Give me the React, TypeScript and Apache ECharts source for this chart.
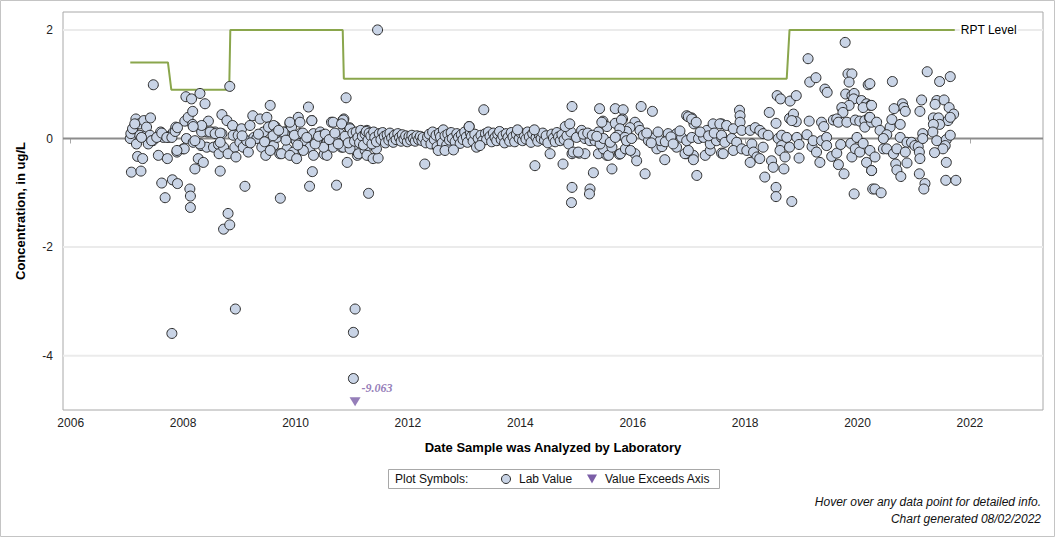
import React, { useEffect, useRef } from 'react';
import * as echarts from 'echarts';

// ---- axis ticks ----
const xTickYears = [2006, 2008, 2010, 2012, 2014, 2016, 2018, 2020, 2022];
const yTickValues = [-4, -2, 0, 2];
const gridValues = [2, -2, -4];
const X_MIN = 2005.863;
const X_MAX = 2023.3;
const Y_MIN = -5;
const Y_MAX = 2.33;

// ---- RPT level (step line) [decimal year, ug/L] ----
const rptLevel: [number, number][] = [
  [2007.06, 1.4], [2007.73, 1.4], [2007.79, 0.9], [2008.82, 0.9], [2008.84, 2.0],
  [2010.84, 2.0], [2010.86, 1.1], [2018.74, 1.1], [2018.79, 2.0], [2021.73, 2.0],
];

// ---- lab values [decimal year, ug/L] ----
const labValues2007to2011: [number, number][] = [
  [2007.06, 0.0], [2007.07, 0.09], [2007.08, -0.62], [2007.11, 0.18], [2007.16, 0.36], [2007.17, -0.1],
  [2007.19, -0.33], [2007.22, 0.27], [2007.23, 0.06], [2007.25, -0.6], [2007.28, -0.37], [2007.3, 0.33],
  [2007.34, 0.06], [2007.35, 0.21], [2007.38, -0.1], [2007.42, 0.38], [2007.41, 0.06], [2007.46, -0.04],
  [2007.47, 0.99], [2007.56, -0.31], [2007.6, 0.12], [2007.62, -0.82], [2007.65, 0.02], [2007.68, -1.09],
  [2007.72, -0.37], [2007.74, 0.02], [2007.78, 0.06], [2007.83, 0.12], [2007.81, -0.76], [2007.87, 0.21],
  [2007.89, -0.25], [2007.9, -0.83], [2008.0, -0.19], [2008.03, 0.32], [2008.05, 0.77], [2008.06, 0.0],
  [2008.09, 0.39], [2008.12, -0.93], [2008.13, -1.06], [2008.13, -1.27], [2008.15, 0.73], [2008.17, 0.5],
  [2008.17, 0.26], [2008.18, -0.07], [2008.21, -0.56], [2008.27, -0.37], [2008.3, 0.83], [2008.3, 0.21],
  [2008.32, -0.13], [2008.36, -0.44], [2008.39, 0.64], [2008.42, -0.16], [2008.43, 0.12], [2008.45, 0.32],
  [2008.51, 0.12], [2008.54, -0.16], [2008.57, 0.12], [2008.63, -0.11], [2008.64, -0.28], [2008.66, -0.6],
  [2008.69, 0.44], [2008.69, 0.09], [2008.72, -0.16], [2008.72, -1.67], [2008.78, 0.33], [2008.8, -0.28],
  [2008.8, -1.38], [2008.83, 0.96], [2008.83, -1.59], [2008.88, 0.24], [2008.89, 0.06], [2008.92, -0.16],
  [2008.94, -0.34], [2008.93, -3.14], [2008.98, 0.06], [2009.01, -0.07], [2009.04, 0.18], [2009.07, -0.16],
  [2009.1, -0.88], [2009.13, -0.04], [2009.16, -0.25], [2009.19, 0.24], [2009.24, 0.42], [2009.26, 0.02],
  [2009.31, 0.0], [2009.37, 0.36], [2009.4, -0.16], [2009.43, 0.12], [2009.47, -0.31], [2009.49, 0.39],
  [2009.52, 0.21], [2009.55, 0.61], [2009.58, -0.04], [2009.61, -0.13], [2009.64, 0.22], [2009.67, 0.02],
  [2009.73, -1.1], [2009.72, -0.28], [2009.78, 0.09], [2009.81, 0.12], [2009.85, -0.19], [2009.9, 0.27],
  [2009.93, 0.21], [2009.96, -0.25], [2010.01, -0.04], [2010.05, 0.39], [2010.08, 0.09], [2010.11, -0.16],
  [2010.17, -0.04], [2010.23, 0.58], [2010.25, -0.88], [2010.26, -0.16], [2010.29, 0.33], [2010.3, -0.61],
  [2010.32, 0.09], [2010.38, -0.04], [2010.44, 0.12], [2010.47, 0.06], [2010.51, -0.29], [2010.56, -0.07],
  [2010.64, 0.3], [2010.67, -0.16], [2010.73, -0.86], [2010.73, -0.04], [2010.79, 0.09], [2010.82, -0.16],
  [2010.84, 0.33], [2010.86, 0.36], [2010.9, 0.75], [2010.92, -0.44], [2010.96, 0.2], [2011.0, 0.06],
  [2011.03, -0.04], [2011.06, -0.16], [2011.1, -0.31], [2007.8, -3.59], [2011.03, -3.57], [2011.06, -3.14],
  [2011.03, -4.42],
  [2007.1, 0.18], [2007.14, 0.27], [2007.26, 0.02], [2007.44, -0.04], [2007.53, 0.02], [2007.62, 0.1],
  [2007.71, 0.02], [2007.8, 0.02], [2007.86, 0.13], [2007.9, 0.2], [2008.33, 0.12], [2008.48, 0.12],
  [2008.57, 0.09], [2008.66, 0.1], [2008.66, -0.07], [2008.3, -0.1], [2008.21, -0.04], [2008.33, 0.24],
  [2008.18, 0.22], [2008.02, -0.19], [2007.89, -0.22],
  [2009.9, 0.3], [2010.08, 0.3], [2010.29, 0.33], [2010.67, 0.3], [2010.85, 0.34], [2010.82, 0.27],
  [2010.97, 0.18], [2009.61, 0.24], [2009.78, 0.12], [2009.64, 0.09], [2009.55, -0.22], [2009.75, -0.28],
  [2009.9, -0.31], [2010.02, -0.37], [2010.14, -0.22], [2010.32, -0.31], [2010.56, -0.31], [2010.5, -0.16],
  [2010.85, -0.16], [2010.97, -0.19],
  [2009.05, 0.05], [2009.2, -0.08], [2009.34, 0.08], [2009.45, -0.06], [2009.6, 0.05], [2009.7, 0.15],
  [2009.83, -0.03], [2009.98, 0.06], [2010.04, -0.12], [2010.13, 0.1], [2010.2, 0.02], [2010.35, -0.1],
  [2010.41, 0.04], [2010.53, 0.08], [2010.6, -0.02], [2010.7, 0.1], [2010.76, -0.1], [2010.88, 0.04],
  [2010.94, -0.08],
];

const labValues2011to2014: [number, number][] = [
  [2011.12, -0.28], [2011.24, -0.22], [2011.27, -0.31], [2011.38, -0.37], [2011.47, -0.36], [2011.44, -0.19],
  [2011.3, -1.01], [2011.46, 2.0], [2011.27, 0.15], [2011.09, 0.09], [2011.18, 0.06],
  [2011.02, 0.1], [2011.05, -0.05], [2011.08, 0.12], [2011.11, 0.02], [2011.14, -0.08], [2011.16, 0.15],
  [2011.19, 0.04], [2011.21, -0.12], [2011.24, 0.08], [2011.26, 0.13], [2011.29, -0.03], [2011.31, 0.1],
  [2011.34, 0.05], [2011.36, -0.1], [2011.39, 0.12], [2011.41, 0.02], [2011.44, -0.06], [2011.49, 0.09],
  [2011.52, -0.02], [2011.55, 0.11], [2011.58, 0.04], [2011.6, -0.08], [2011.63, 0.07], [2011.66, -0.03],
  [2011.68, 0.1], [2011.71, 0.01], [2011.74, -0.07], [2011.76, 0.06], [2011.79, -0.02], [2011.82, 0.09],
  [2011.85, 0.02], [2011.88, -0.05], [2011.9, 0.07], [2011.93, -0.01], [2011.96, 0.05], [2011.99, -0.06],
  [2012.02, 0.04], [2012.05, -0.03], [2012.07, 0.06], [2012.1, 0.0], [2012.13, -0.05], [2012.16, 0.05],
  [2012.19, -0.02], [2012.22, 0.04], [2012.25, -0.04], [2012.27, 0.02], [2012.32, -0.08], [2012.35, 0.03],
  [2012.38, 0.08], [2012.41, -0.1], [2012.44, 0.12], [2012.47, -0.02], [2012.5, 0.06], [2012.52, -0.15],
  [2012.56, 0.1], [2012.58, 0.03], [2012.61, -0.08], [2012.63, 0.16], [2012.66, 0.05], [2012.69, -0.12],
  [2012.71, 0.08], [2012.74, -0.03], [2012.77, 0.11], [2012.79, 0.0], [2012.84, -0.06], [2012.87, 0.09],
  [2012.9, 0.02], [2012.93, -0.09], [2012.95, 0.07], [2012.98, -0.02], [2013.01, 0.12], [2013.04, 0.03],
  [2013.06, -0.07], [2013.09, 0.22], [2013.11, 0.1], [2013.13, 0.04], [2013.16, -0.05], [2013.19, 0.08],
  [2013.25, 0.0], [2013.3, 0.06], [2013.33, -0.04], [2013.38, 0.09], [2013.4, -0.02], [2013.43, 0.12],
  [2013.46, 0.04], [2013.49, -0.06], [2013.52, 0.1], [2013.55, 0.02], [2013.58, -0.04], [2013.6, 0.08],
  [2013.63, 0.13], [2013.66, -0.02], [2013.69, 0.05], [2013.72, -0.08], [2013.75, 0.09], [2013.78, 0.02],
  [2013.81, -0.05], [2013.84, 0.11], [2013.87, 0.03], [2013.9, -0.06], [2013.93, 0.08], [2013.98, 0.0],
  [2014.01, 0.1], [2014.04, -0.04], [2014.07, 0.06], [2014.1, -0.01], [2014.13, 0.12], [2014.16, 0.03],
  [2014.19, -0.07], [2014.22, 0.09], [2014.28, 0.02], [2014.31, -0.05], [2014.34, 0.07], [2014.37, 0.0],
  [2014.4, 0.1], [2014.43, -0.03], [2014.46, 0.05], [2014.49, -0.08], [2014.56, 0.08], [2014.59, 0.01],
  [2014.62, -0.06], [2014.65, 0.11], [2014.68, 0.03], [2014.71, -0.04], [2014.74, 0.07], [2014.78, -0.02],
  [2014.83, 0.05], [2014.86, -0.1], [2014.9, 0.12],
  [2012.3, -0.47], [2012.54, -0.22], [2012.66, -0.22], [2012.81, -0.21], [2013.35, 0.53], [2013.09, 0.22],
  [2013.22, -0.16], [2013.28, -0.13], [2013.95, 0.16], [2014.25, 0.16], [2014.26, -0.5], [2014.53, -0.28],
  [2014.76, -0.47], [2014.8, 0.22], [2014.88, 0.27], [2014.92, 0.59], [2014.92, -0.28], [2014.92, -0.9],
  [2014.91, -1.18],
];

const labValues2015to2017: [number, number][] = [
  [2015.41, 0.55], [2015.69, 0.55], [2015.83, 0.53], [2016.15, 0.59], [2016.35, 0.5], [2015.47, 0.32],
  [2015.54, 0.22], [2015.69, 0.28], [2015.82, 0.36], [2016.04, 0.3], [2016.1, 0.22], [2016.96, 0.42],
  [2017.05, 0.38], [2017.09, 0.27], [2015.24, -0.93], [2015.23, -1.02], [2015.3, -0.63], [2015.63, -0.56],
  [2016.22, -0.65], [2016.57, -0.39], [2017.14, -0.68], [2014.94, -0.25], [2015.05, -0.27], [2015.15, -0.28],
  [2015.39, -0.28], [2015.54, -0.31], [2015.76, -0.29], [2015.88, -0.19], [2016.04, -0.28], [2016.07, -0.41],
  [2016.78, -0.16], [2016.96, -0.28], [2017.08, -0.31],
  [2016.99, 0.4], [2017.05, 0.36], [2017.13, 0.3], [2015.45, 0.3], [2015.8, 0.34], [2016.13, 0.15],
  [2015.95, 0.2], [2015.89, 0.13], [2015.39, 0.12], [2015.77, 0.18], [2015.74, 0.06], [2015.86, 0.02],
  [2015.03, -0.25], [2015.48, -0.19], [2015.57, -0.31], [2015.63, -0.16], [2015.78, -0.28], [2015.87, -0.19],
  [2015.96, -0.22], [2016.43, -0.19], [2016.52, -0.15], [2016.93, -0.28], [2016.99, -0.22], [2017.08, -0.39],
  [2017.29, -0.31], [2017.38, -0.22], [2017.58, -0.27], [2015.0, 0.02], [2015.09, 0.15], [2015.15, 0.0],
  [2015.24, -0.04], [2015.33, -0.04], [2015.42, -0.1], [2015.48, 0.0], [2015.6, -0.07], [2015.69, 0.02],
  [2015.89, -0.04], [2015.98, 0.0], [2016.19, 0.06], [2016.28, -0.04], [2016.4, 0.02], [2016.49, -0.04],
  [2016.63, 0.09], [2016.78, 0.09], [2016.87, 0.02], [2016.96, -0.04], [2017.05, 0.02], [2017.17, 0.0],
  [2017.26, 0.02], [2017.32, 0.15], [2017.38, -0.1], [2017.49, -0.04], [2017.58, 0.02], [2017.43, 0.27],
  [2017.58, 0.27],
  [2016.25, 0.1], [2016.33, -0.08], [2016.45, 0.12], [2016.58, -0.06], [2016.68, 0.03], [2016.72, -0.1],
  [2016.84, 0.14], [2017.2, 0.12], [2017.35, 0.05], [2017.45, 0.1], [2015.12, 0.08], [2015.2, 0.1],
  [2015.28, 0.06], [2015.36, 0.04],
];

const labValues2018to2021: [number, number][] = [
  [2019.78, 1.77], [2019.12, 1.47], [2019.83, 1.19], [2019.9, 1.19], [2019.85, 1.04], [2019.15, 1.04],
  [2019.26, 1.12], [2019.42, 0.91], [2019.46, 0.85], [2020.19, 0.99], [2019.79, 0.82], [2019.9, 0.79],
  [2019.94, 0.83], [2019.93, 0.73], [2019.85, 0.61], [2019.72, 0.57], [2019.74, 0.48], [2018.57, 0.79],
  [2018.63, 0.73], [2018.8, 0.69], [2018.91, 0.79], [2018.79, 0.37], [2018.86, 0.45], [2018.91, 0.31],
  [2018.83, 0.33], [2018.43, 0.48], [2018.55, 0.28], [2019.14, 0.32], [2019.36, 0.3], [2019.4, 0.22],
  [2019.57, 0.34], [2019.63, 0.36], [2019.66, 0.3], [2019.81, 0.3], [2019.96, 0.34], [2020.04, 0.32],
  [2020.13, 0.33], [2020.21, 0.39], [2020.13, 0.21], [2020.25, 0.3], [2020.07, 0.7], [2020.16, 0.64],
  [2020.23, 0.61], [2020.1, 0.57], [2017.9, 0.52], [2017.91, 0.42], [2017.55, 0.27], [2017.67, 0.24],
  [2017.79, 0.18], [2017.91, 0.3], [2017.94, 0.15], [2018.09, 0.15], [2018.18, 0.2], [2018.26, 0.15],
  [2018.32, 0.09], [2018.41, 0.06],
  [2017.58, 0.06], [2017.64, -0.07], [2017.61, -0.28], [2017.76, 0.0], [2017.85, -0.07], [2017.79, -0.22],
  [2017.94, -0.19], [2018.03, -0.22], [2018.12, -0.1], [2018.15, -0.25], [2018.21, -0.34], [2018.09, -0.44],
  [2018.26, -0.37], [2018.32, -0.16], [2018.35, -0.71], [2018.47, -0.41], [2018.5, -0.53], [2018.55, -0.9],
  [2018.55, -1.07], [2018.59, 0.0], [2018.65, 0.06], [2018.65, -0.13], [2018.62, -0.22], [2018.71, -0.34],
  [2018.74, 0.02], [2018.79, -0.16], [2018.92, 0.02], [2018.96, -0.11], [2018.96, -0.36], [2018.69, -0.56],
  [2018.83, -1.16], [2019.1, 0.07], [2019.19, -0.15], [2019.21, -0.04], [2019.27, -0.25], [2019.33, -0.44],
  [2019.36, -0.04], [2019.45, 0.02], [2019.45, -0.13], [2019.54, -0.33], [2019.63, -0.27], [2019.66, -0.48],
  [2019.7, -0.11], [2019.76, -0.65], [2019.88, -0.09], [2019.9, -0.34], [2019.96, -0.19], [2019.99, 0.02],
  [2020.04, -0.25], [2020.1, -0.09], [2020.16, -0.44], [2019.94, -1.02], [2020.25, -0.59], [2020.27, -0.93],
  [2021.24, 1.23], [2021.65, 1.14], [2021.46, 1.05], [2020.62, 1.05], [2021.14, 0.71], [2021.41, 0.7],
  [2021.54, 0.71], [2021.38, 0.63], [2020.8, 0.64], [2020.82, 0.57], [2020.85, 0.5], [2020.65, 0.55],
  [2021.11, 0.5], [2021.63, 0.57], [2021.71, 0.45], [2021.61, 0.33], [2021.65, 0.39], [2020.22, 1.01],
  [2020.25, 0.61], [2020.22, 0.39], [2020.34, 0.3], [2020.4, 0.15], [2020.58, 0.21], [2020.61, 0.35],
  [2020.52, 0.07], [2020.46, 0.0], [2020.76, 0.26], [2021.35, 0.38], [2021.44, 0.38], [2021.46, 0.26],
  [2021.35, 0.26], [2021.34, 0.12], [2020.76, 0.02], [2020.88, -0.07], [2020.96, -0.07], [2021.02, -0.13],
  [2021.08, -0.15], [2021.16, 0.09], [2021.16, 0.0], [2021.41, -0.04], [2021.58, -0.02], [2021.65, 0.06],
  [2021.56, -0.13], [2021.52, -0.19], [2020.22, -0.22], [2020.31, -0.34], [2020.25, -0.59], [2020.46, -0.19],
  [2020.52, -0.19], [2020.64, -0.28], [2020.7, -0.19], [2020.85, -0.25], [2020.68, -0.47], [2020.7, -0.58],
  [2020.77, -0.7], [2020.88, -0.45], [2021.1, -0.25], [2021.11, -0.37], [2021.1, -0.65], [2021.37, -0.26],
  [2021.58, -0.44], [2021.2, -0.83], [2021.18, -0.93], [2021.57, -0.77], [2021.75, -0.77], [2020.31, -0.93],
  [2020.42, -1.0],
];

// ---- values beyond the axis floor ----
const exceedDates = [2011.06];
const exceedValues = [-9.063];

const FONT = '"Liberation Sans", Arial, sans-serif';
const PURPLE = '#7b5ea7';
const FILL = '#c9d4e6';

export default function App() {
  const ref = useRef<HTMLDivElement>(null);

  useEffect(() => {
    document.body.style.margin = '0';
    const chart = echarts.init(ref.current!, null, { renderer: 'svg' });
    const labValues = [
      ...labValues2007to2011,
      ...labValues2011to2014,
      ...labValues2015to2017,
      ...labValues2018to2021,
    ];
    const floorMark = Y_MIN + 0.15;

    const hLine = (v: number, color: string, width: number, z: number) => ({
      type: 'line', silent: true, z, symbol: 'none',
      data: [[X_MIN, v], [X_MAX, v]],
      lineStyle: { color, width },
    });

    chart.setOption({
      animation: false,
      textStyle: { fontFamily: FONT },
      grid: {
        left: 63, top: 12, width: 980, height: 398,
        show: true, borderColor: '#a8a8a8', borderWidth: 1, backgroundColor: '#fff',
      },
      xAxis: {
        type: 'value', min: X_MIN, max: X_MAX,
        axisLine: { show: false },
        axisTick: { show: true, customValues: xTickYears, length: 5, lineStyle: { color: '#a8a8a8' } },
        axisLabel: {
          customValues: xTickYears, color: '#222', fontSize: 12, margin: 7,
          formatter: (v: number) => String(Math.round(v)),
        },
        splitLine: { show: false },
        name: 'Date Sample was Analyzed by Laboratory',
        nameLocation: 'middle', nameGap: 31,
        nameTextStyle: { fontWeight: 'bold', fontSize: 13, color: '#000', fontFamily: FONT },
      },
      yAxis: {
        type: 'value', min: Y_MIN, max: Y_MAX,
        axisLine: { show: false },
        axisTick: { show: false },
        axisLabel: {
          customValues: yTickValues, color: '#222', fontSize: 12, margin: 10,
          formatter: (v: number) => String(v),
        },
        splitLine: { show: false },
        name: 'Concentration, in ug/L',
        nameLocation: 'middle', nameGap: 36, nameRotate: 90,
        nameTextStyle: { fontWeight: 'bold', fontSize: 13, color: '#000', fontFamily: FONT },
      },
      series: [
        ...gridValues.map((v) => hLine(v, '#ebebeb', 2, 1)),
        hLine(0, '#8c8c8c', 2, 1),
        {
          type: 'line', data: rptLevel, z: 2, symbol: 'none', silent: true,
          lineStyle: { color: '#8aa64c', width: 2 },
          endLabel: {
            show: true, formatter: 'RPT Level', color: '#000', fontSize: 12, distance: 5, fontFamily: FONT,
            backgroundColor: '#fff', padding: [0, 1],
          },
        },
        {
          type: 'scatter', data: labValues, z: 3, symbol: 'circle', symbolSize: 10,
          itemStyle: { color: FILL, borderColor: '#2b2b2b', borderWidth: 1, opacity: 1 },
        },
        {
          type: 'scatter', z: 4, symbol: 'triangle', symbolRotate: 180, symbolSize: [11, 9],
          itemStyle: { color: PURPLE },
          data: exceedDates.map((d, i) => ({
            value: [d, floorMark],
            label: {
              show: true, formatter: exceedValues[i].toFixed(3), position: [12, -15],
              color: PURPLE, fontSize: 12, fontWeight: 'bold', fontStyle: 'italic',
              fontFamily: '"Liberation Serif", "DejaVu Serif", serif',
            },
          })),
        },
      ],
      graphic: [
        {
          type: 'rect', silent: true, z: -10,
          shape: { x: 0.5, y: 0.5, width: 1054, height: 536 },
          style: { fill: 'none', stroke: '#c4c4c4', lineWidth: 1 },
        },
        {
          type: 'rect', silent: true,
          shape: { x: 388.5, y: 469.5, width: 331, height: 19 },
          style: { fill: '#fff', stroke: '#a8a8a8', lineWidth: 1 },
        },
        {
          type: 'text', x: 395, y: 479,
          style: { text: 'Plot Symbols:', font: `12px ${FONT}`, fill: '#111', verticalAlign: 'middle', textVerticalAlign: 'middle' },
        },
        {
          type: 'circle', shape: { cx: 506, cy: 479, r: 4.5 },
          style: { fill: FILL, stroke: '#2b2b2b', lineWidth: 1 },
        },
        {
          type: 'text', x: 519, y: 479,
          style: { text: 'Lab Value', font: `12px ${FONT}`, fill: '#111', verticalAlign: 'middle', textVerticalAlign: 'middle' },
        },
        {
          type: 'polygon', shape: { points: [[587, 474.5], [597, 474.5], [592, 483.5]] },
          style: { fill: PURPLE },
        },
        {
          type: 'text', x: 605, y: 479,
          style: { text: 'Value Exceeds Axis', font: `12px ${FONT}`, fill: '#111', verticalAlign: 'middle', textVerticalAlign: 'middle' },
        },
        {
          type: 'text', x: 1041, y: 502,
          style: {
            text: 'Hover over any data point for detailed info.', font: `italic 12px ${FONT}`, fill: '#111',
            align: 'right', textAlign: 'right', verticalAlign: 'middle', textVerticalAlign: 'middle',
          },
        },
        {
          type: 'text', x: 1041, y: 519,
          style: {
            text: 'Chart generated 08/02/2022', font: `italic 12px ${FONT}`, fill: '#111',
            align: 'right', textAlign: 'right', verticalAlign: 'middle', textVerticalAlign: 'middle',
          },
        },
      ],
    });
    return () => chart.dispose();
  }, []);

  return <div ref={ref} style={{ width: 1056, height: 538 }} />;
}
